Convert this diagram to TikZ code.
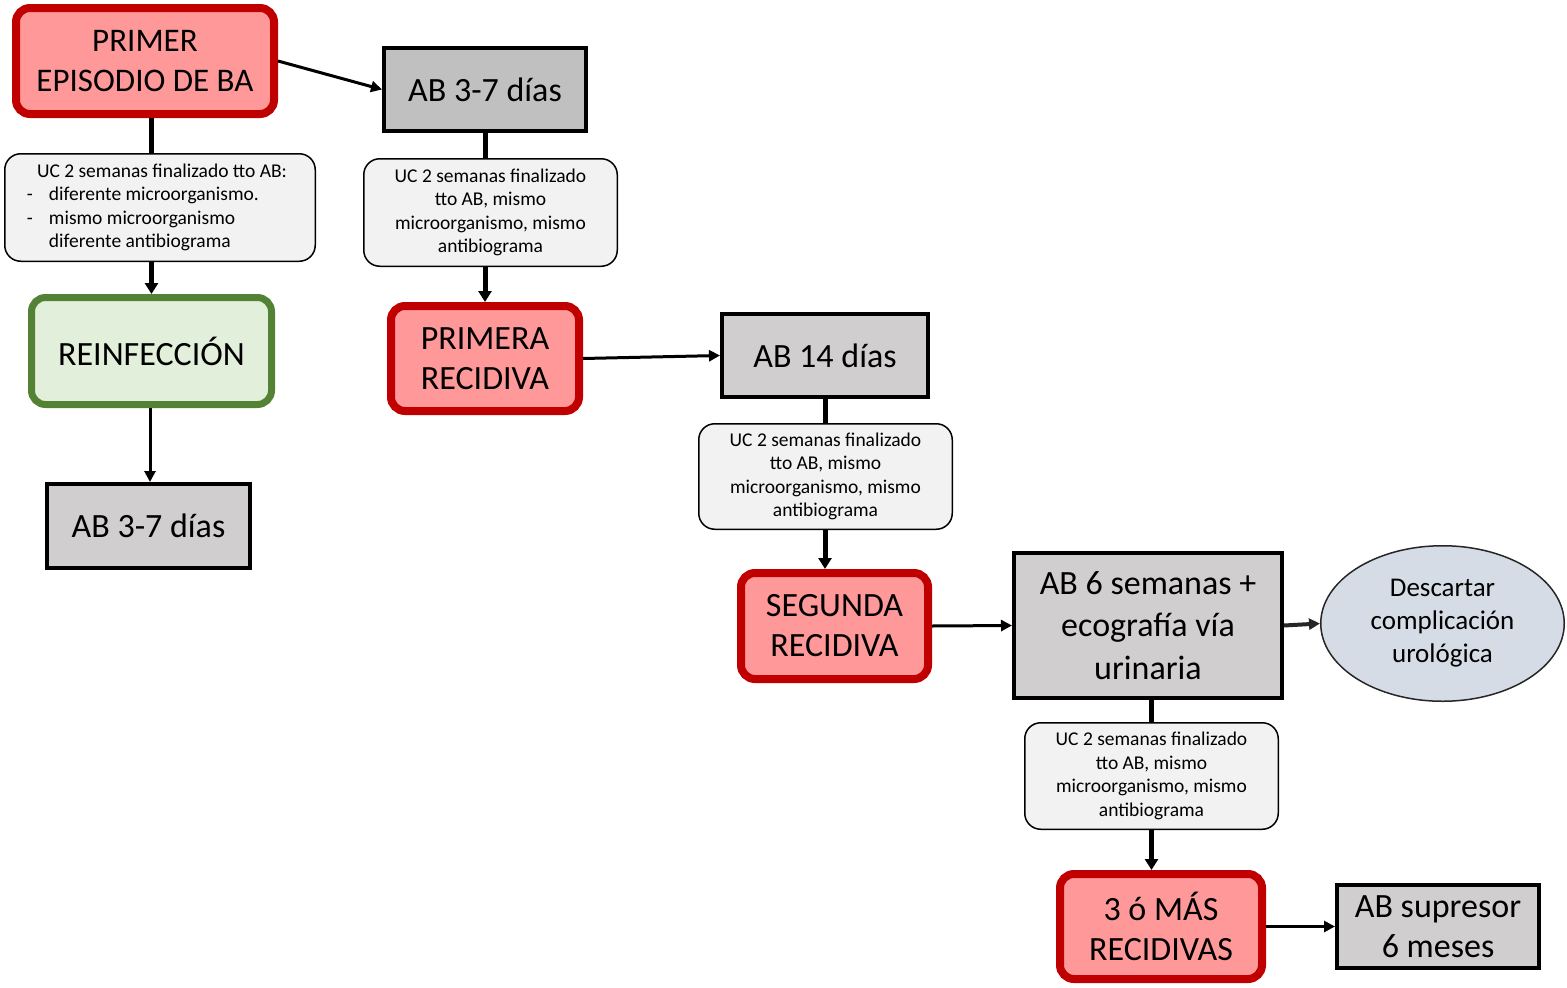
\documentclass[tikz,border=0pt]{standalone}
\usepackage{fontspec}
\setmainfont{Carlito}
\usetikzlibrary{arrows.meta,shapes.geometric}
\definecolor{recline}{HTML}{C00000}
\definecolor{recfill}{HTML}{FF9999}
\definecolor{reinfline}{HTML}{548235}
\definecolor{reinffill}{HTML}{E2EFDA}
\definecolor{abfillA}{HTML}{C0C0C0}
\definecolor{abfillB}{HTML}{D0CECE}
\definecolor{ucfill}{HTML}{F2F2F2}
\definecolor{elfill}{HTML}{D6DCE5}
\definecolor{elline}{HTML}{262626}
\tikzset{
  bigtext/.style={font=\fontsize{34}{40}\selectfont, align=center, inner sep=0pt},
  recbox/.style={bigtext, draw=recline, fill=recfill, line width=8pt, rounded corners=14pt},
  reinfbox/.style={bigtext, draw=reinfline, fill=reinffill, line width=7pt, rounded corners=14pt},
  abbox/.style={bigtext, draw=black, fill=abfillB, line width=4pt},
  ucbox/.style={draw=black, fill=ucfill, line width=1.5pt, rounded corners=16pt,
    font=\fontsize{19.5}{23.5}\selectfont, align=center, inner sep=0pt},
  thinarrow/.style={line width=3pt, -{Triangle[length=11pt,width=11pt]}},
  thickarrow/.style={line width=5pt, -{Triangle[length=11pt,width=13pt]}},
  thickline/.style={line width=5pt}
}
\begin{document}
\begin{tikzpicture}[x=1pt,y=-1pt]
\useasboundingbox (0,0) rectangle (1567,988);

% left column
\node[recbox, font=\fontsize{33}{40}\selectfont, minimum width=258pt, minimum height=106pt] (p1) at (145,61) {PRIMER\\EPISODIO DE BA};
\node[ucbox, minimum width=310.5pt, minimum height=107.5pt, align=left] (uc1) at (160,207.5)
  {\makebox[266pt][l]{\hspace*{10pt}UC 2 semanas finalizado tto AB:}\\
   \makebox[22pt][l]{-}diferente microorganismo.\\
   \makebox[22pt][l]{-}mismo microorganismo\\
   \makebox[22pt][l]{}diferente antibiograma};
\node[reinfbox, minimum width=240pt, minimum height=107pt] (reinf) at (151.5,351) {REINFECCIÓN};
\node[abbox, minimum width=203pt, minimum height=84pt] (ab0) at (148.5,526) {AB 3-7 días};

% first recurrence column
\node[abbox, fill=abfillA, minimum width=202pt, minimum height=83pt] (ab1) at (485,89.5) {AB 3-7 días};
\node[ucbox, minimum width=253.5pt, minimum height=107.5pt] (uc2) at (490.5,212.5)
  {UC 2 semanas finalizado\\tto AB, mismo\\microorganismo, mismo\\antibiograma};
\node[recbox, minimum width=188pt, minimum height=105pt] (pr1) at (485,358.5) {PRIMERA\\RECIDIVA};

% second recurrence column
\node[abbox, minimum width=206pt, minimum height=83pt] (ab14) at (825,355.5) {AB 14 días};
\node[ucbox, minimum width=253.5pt, minimum height=105.5pt] (uc3) at (825.5,476.5)
  {UC 2 semanas finalizado\\tto AB, mismo\\microorganismo, mismo\\antibiograma};
\node[recbox, minimum width=187pt, minimum height=106pt] (sg) at (834.5,626) {SEGUNDA\\RECIDIVA};

% third recurrence column
\node[abbox, font=\fontsize{34}{42.5}\selectfont, minimum width=268pt, minimum height=145pt] (ab6) at (1148,625.5)
  {AB 6 semanas +\\ecografía vía\\urinaria};
\node[ellipse, draw=elline, fill=elfill, line width=1.5pt, inner sep=0pt,
  minimum width=243.5pt, minimum height=155.5pt, align=center,
  font=\fontsize{27}{33}\selectfont] (el) at (1442.5,623.5) {Descartar\\complicación\\urológica};
\node[ucbox, minimum width=253.5pt, minimum height=106.5pt] (uc4) at (1151.5,776)
  {UC 2 semanas finalizado\\tto AB, mismo\\microorganismo, mismo\\antibiograma};
\node[recbox, minimum width=202pt, minimum height=105pt] (mas) at (1161,926.5) {3 ó MÁS\\RECIDIVAS};
\node[abbox, minimum width=202pt, minimum height=83pt] (sup) at (1438,926.5) {AB supresor\\6 meses};

% connectors
\draw[thinarrow] (p1.east) -- (ab1.west);
\draw[thickline] (p1.south -| reinf.center) -- (uc1.north -| reinf.center);
\draw[thickarrow] (uc1.south -| reinf.center) -- (reinf.north);
\draw[thinarrow] (reinf.south -| 150,0) -- (ab0.north -| 150,0);

\draw[thickline] (ab1.south) -- (uc2.north -| ab1.south);
\draw[thickarrow] (uc2.south -| ab1.south) -- (pr1.north);
\draw[thinarrow] (pr1.east) -- (ab14.west);

\draw[thickline] (ab14.south) -- (uc3.north -| ab14.south);
\draw[thickarrow] (uc3.south -| ab14.south) -- (sg.north -| ab14.south);
\draw[thinarrow] (sg.east) -- (ab6.west);
\draw[line width=4pt, draw=elline, -{Triangle[length=11pt,width=11pt]}] (ab6.east) -- (el.west);

\draw[thickline] (ab6.south -| uc4.north) -- (uc4.north);
\draw[thickarrow] (uc4.south) -- (mas.north -| uc4.south);
\draw[thinarrow] (mas.east) -- (sup.west);
\end{tikzpicture}
\end{document}
